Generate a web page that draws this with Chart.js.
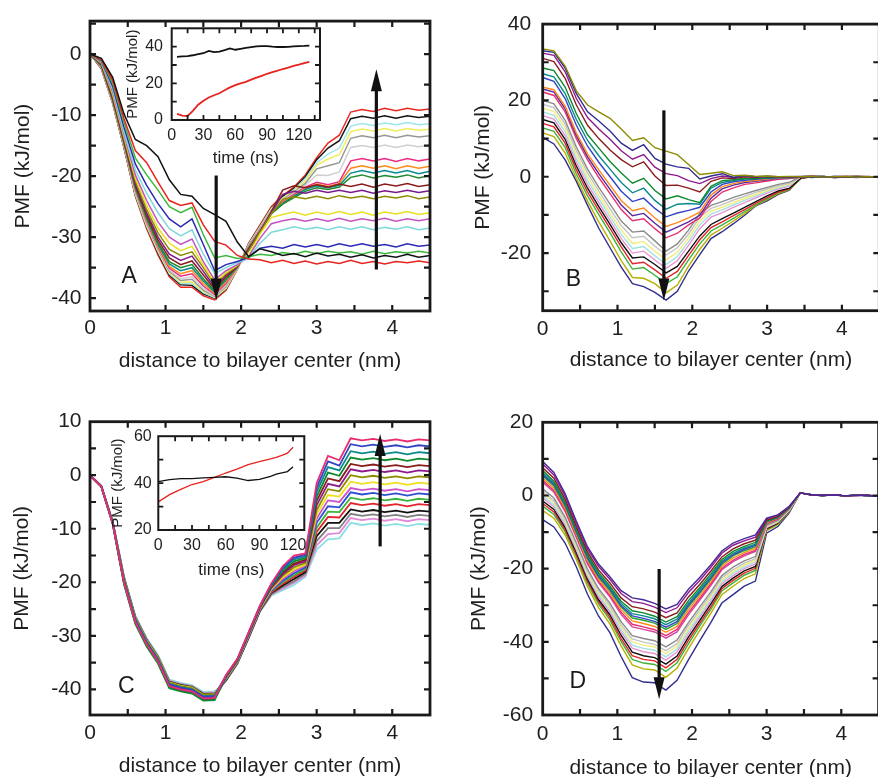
<!DOCTYPE html>
<html>
<head>
<meta charset="utf-8">
<title>PMF profiles</title>
<script src="https://cdn.jsdelivr.net/npm/chart.js@4.4.1/dist/chart.umd.min.js"></script>
<style>
  html, body { margin: 0; padding: 0; background: #fff; }
  body { position: relative; width: 878px; height: 777px; overflow: hidden; }
  canvas { position: absolute; }
</style>
</head>
<body>
<canvas id="panelA" width="440" height="385" style="left:0;top:0"></canvas>
<canvas id="panelB" width="445" height="385" style="left:440px;top:0"></canvas>
<canvas id="panelC" width="440" height="390" style="left:0;top:400px"></canvas>
<canvas id="panelD" width="445" height="390" style="left:440px;top:400px"></canvas>
<canvas id="insetA" width="220" height="165" style="left:110px;top:10px"></canvas>
<canvas id="insetC" width="215" height="165" style="left:100px;top:420px"></canvas>
<script>
Chart.defaults.font.family = '"Liberation Sans", Arial, Helvetica, sans-serif';
Chart.defaults.color = '#1f1f1f';

// distance to bilayer center (nm), same grid for every panel
var distance = [0, 0.15, 0.3, 0.45, 0.6, 0.75, 0.9, 1.05, 1.2, 1.35, 1.5, 1.65, 1.8, 1.95, 2.1, 2.25,
    2.4, 2.55, 2.7, 2.85, 3.0, 3.15, 3.3, 3.45, 3.6, 3.75, 3.9, 4.05, 4.2, 4.35, 4.5];
var distTicks = [0, 0.5, 1, 1.5, 2, 2.5, 3, 3.5, 4, 4.5];
var distLabels = [0, 1, 2, 3, 4];

// panel A profiles, earliest first
var pmfA = [
    [0,-0.7,-3.8,-9.8,-14,-15,-16.8,-20.6,-23,-23.3,-25.3,-26.3,-27.4,-30.8,-33.2,-31.9,-32.4,-33,-32.7,-33.2,-32.6,-33.1,-32.8,-33.3,-32.9,-33.4,-33,-33.3,-32.8,-33.3,-33],
    [0,-0.9,-4.3,-10.6,-15.8,-17.8,-21,-24,-24.8,-24.4,-28,-30.7,-31.3,-33,-33.6,-33.7,-34.2,-33.8,-34.3,-33.9,-34.4,-34,-34.3,-33.8,-34.3,-34,-34.4,-34,-34.2,-33.9,-34.2],
    [0,-1,-4.8,-11.2,-17,-19.8,-22.3,-25,-26,-25.1,-29.6,-33.4,-33,-33.5,-33.2,-32.8,-33,-32.5,-32.8,-32.3,-32.7,-32.3,-32.6,-32.4,-32.8,-32.3,-32.7,-32.4,-32.6,-32.3,-32.6],
    [0,-1.1,-5.3,-12,-18,-21.5,-24.5,-27,-28.3,-27,-31.2,-35.5,-34.5,-34,-33.3,-31.8,-31.5,-31.8,-31.2,-31.6,-31.2,-31.6,-31.1,-31.5,-31.1,-31.5,-31.2,-31.6,-31.1,-31.5,-31.3],
    [0,-1.2,-5.8,-12.8,-19,-22.8,-26,-28.6,-29.8,-28.8,-32.8,-36,-35,-34.2,-33.5,-31,-29.2,-28.8,-28.3,-28.7,-28.4,-28.8,-28.3,-28.7,-28.3,-28.8,-28.4,-28.7,-28.3,-28.8,-28.5],
    [0,-1.3,-6.2,-13.2,-19.8,-24,-27.5,-30,-31.2,-30.3,-34,-37,-35.5,-34.5,-33.2,-30.2,-27.8,-27.3,-27,-27.4,-27,-27.4,-26.9,-27.4,-27,-27.3,-26.9,-27.4,-27,-27.3,-27],
    [0,-1.4,-6.5,-13.5,-20.3,-24.8,-28.5,-31,-32.2,-31.5,-34.6,-37.5,-35.8,-34.6,-33,-29.5,-26.8,-26.3,-25.9,-26.4,-25.9,-26.3,-25.8,-26.3,-25.9,-26.4,-25.9,-26.2,-25.8,-26.3,-26],
    [0,-1.5,-6.8,-13.8,-20.8,-25.5,-29.3,-32,-33,-32.4,-35,-37.8,-36,-34.7,-32.3,-29.2,-26.2,-23.8,-23.4,-23.7,-23.3,-23.7,-23.2,-23.6,-23.3,-23.7,-23.3,-23.6,-23.2,-23.7,-23.4],
    [0,-1.6,-7,-14,-21.2,-26,-30,-32.8,-33.8,-33.1,-35.6,-38.2,-36.2,-34.8,-32.1,-29.1,-26,-23,-22.5,-22.8,-22.3,-22.7,-22.3,-22.7,-22.3,-22.8,-22.4,-22.7,-22.3,-22.7,-22.4],
    [0,-1.7,-7.2,-14.2,-21.5,-26.4,-30.5,-33.4,-34.5,-33.9,-36.2,-38.5,-36.5,-34.8,-32,-29.2,-25.8,-22.3,-21.6,-21.9,-21.4,-21.8,-21.3,-21.7,-21.3,-21.8,-21.3,-21.6,-21.2,-21.7,-21.4],
    [0,-1.8,-7.4,-14.4,-21.7,-26.8,-30.9,-34,-35,-34.5,-36.8,-38.8,-36.8,-34.9,-31.9,-29.1,-26.2,-24.6,-23.5,-22.5,-21.9,-22.2,-21.8,-20.2,-19.8,-20.3,-19.9,-20.2,-19.8,-20.3,-19.9],
    [0,-1.9,-7.5,-14.5,-21.9,-27,-31.2,-34.4,-35.5,-35,-37.2,-39,-37,-34.9,-31.8,-29,-26.1,-24.5,-23.3,-22.2,-21.6,-21.9,-21.5,-19.5,-19.1,-19.5,-19.1,-19.5,-19.1,-19.6,-19.2],
    [0,-1.9,-7.6,-14.6,-22,-27.2,-31.4,-34.8,-36,-35.5,-37.6,-39.2,-37.3,-35,-31.7,-28.9,-26,-24.4,-23.2,-22,-21.3,-21.7,-21.2,-18.7,-18.3,-18.7,-18.3,-18.8,-18.3,-18.7,-18.4],
    [0,-2,-7.7,-14.7,-22.2,-27.4,-31.6,-35.1,-36.4,-36,-38,-39.4,-37.6,-35,-31.6,-28.8,-25.9,-24.2,-23,-21.8,-21,-21.4,-20.9,-17.5,-17.1,-17.5,-17.1,-17.6,-17.1,-17.5,-17.2],
    [0,-2,-7.8,-14.8,-22.4,-27.6,-31.8,-35.4,-36.8,-36.5,-38.4,-39.6,-37.9,-35.1,-31.5,-28.6,-25.7,-24,-22.8,-21.5,-19.8,-19.9,-19.3,-15.3,-15,-15.3,-14.9,-15.3,-14.9,-15.2,-14.9],
    [0,-2.1,-7.9,-14.9,-22.6,-27.8,-32,-35.6,-37.1,-36.9,-38.7,-39.7,-38.1,-35.1,-31.4,-28.5,-25.6,-23.9,-22.6,-21.2,-18.8,-18.3,-17.8,-13.8,-13.4,-13.7,-13.3,-13.7,-13.3,-13.6,-13.4],
    [0,-2.2,-7.9,-15,-22.8,-28,-32.2,-35.8,-37.4,-37.3,-38.9,-39.8,-38.3,-35.2,-31.3,-28.4,-25.4,-23.7,-22.4,-20.8,-18.2,-17.2,-16.5,-12.7,-12.3,-12.6,-12.2,-12.6,-12.2,-12.5,-12.3],
    [0,-2.2,-8,-15.1,-23,-28.2,-32.4,-36,-37.6,-37.6,-39.1,-39.9,-38.4,-35.2,-31.2,-28.3,-25.3,-23.6,-22.2,-20.4,-17.8,-16.4,-15.4,-11.8,-11.4,-11.7,-11.3,-11.6,-11.2,-11.6,-11.4],
    [0,-2.3,-8,-15.2,-23.1,-28.3,-32.6,-36.2,-37.8,-37.9,-39.3,-40,-38.5,-35.2,-31.1,-28.2,-25.2,-23.4,-22,-20.1,-17.3,-15.4,-14.2,-10.6,-10.2,-10.5,-10.1,-10.5,-10.1,-10.4,-10.2],
    [0,-2.4,-8.1,-15.4,-23.3,-28.6,-32.9,-36.5,-38.2,-38.2,-39.6,-40.3,-38.7,-35.3,-31,-28,-25,-23.2,-21.8,-19.8,-17,-14.6,-13.3,-9.5,-9.1,-9.4,-8.9,-9.3,-8.9,-9.2,-9]
];
var colorsA = ['#111111', '#e8231f', '#3cb83c', '#2a2ab4', '#7fd8dc', '#c154c1', '#e8e020', '#8c8c00', '#7a1a8a', '#8b1c1c',
    '#1e8a2e', '#0a8c8c', '#ff8a1c', '#ec2c84', '#cfcfcf', '#969696', '#f2ec60', '#9ee6ea', '#151515', '#ea2a22'];

// panel B profiles
var pmfB = [
    [33.5,33,29,22.5,18.8,17,15.3,12.5,9.5,10.2,7.6,6.7,5.8,3.2,0.6,0.9,1.3,0.3,0.4,0.1,0.2,0,0.1,0,0.1,-0.1,0,0.1,-0.1,0,0],
    [33,32.6,28.5,21.8,17,14.6,12,8.8,6.9,8.4,4.8,3.3,2.6,2.2,-0.6,0.2,0.8,-0.2,0.3,0,0.1,-0.1,0,0.1,0,0,-0.1,0.1,0,-0.1,0],
    [32.4,31.8,27.5,20.5,15.5,12.5,9.8,6.8,4.6,5.8,2.5,0.8,0.3,-1,-1.8,-0.5,0.2,-0.2,0.2,0,0.1,0,-0.1,0,0.1,0,-0.1,0,0.1,0,0],
    [31,30.2,25.8,18.8,13.5,10,7,4.5,2.6,3.9,0.2,-2.3,-2.2,-3,-4,-1.2,-0.3,-0.5,0,-0.2,0.1,0,-0.1,0,0.1,0,-0.1,0,0,-0.1,0],
    [28.5,27.8,23.5,16.5,11,7.5,4,1,-1.7,-0.4,-3.6,-5.8,-5,-6,-6.8,-2.5,-1,-0.8,-0.4,-0.5,-0.2,-0.1,-0.2,0,0.1,0,-0.1,0,0.1,0,-0.1],
    [27,26.2,21.8,15,9.5,5.5,2,-1.5,-4.2,-3,-6.2,-8.5,-7.2,-7,-7.2,-3,-1.5,-1,-0.6,-0.5,-0.3,-0.2,-0.2,0,0,0.1,-0.1,0,0,-0.1,0],
    [26,25,20.5,13.5,8,3.8,0,-3.8,-6.5,-5.6,-8.3,-10.5,-9.5,-8.8,-8,-4,-2,-1.3,-0.9,-0.7,-0.4,-0.3,-0.2,0,0,-0.1,0.1,0,-0.1,0,0],
    [23.5,22.8,18.5,11.5,6,1.8,-2.2,-6.2,-8.9,-8.2,-10.8,-13,-12,-10.8,-9.3,-4.8,-2.6,-1.8,-1.2,-1,-0.6,-0.4,-0.3,0,0.1,0,-0.1,0,0.1,0,-0.1],
    [23,22.2,17.8,10.8,5.2,0.8,-3.3,-7.4,-10.2,-9.6,-12.2,-14.5,-13.2,-11.8,-10.1,-5.6,-3.2,-2.2,-1.5,-1.2,-0.8,-0.5,-0.4,0,0,0.1,-0.1,0,0,-0.1,0],
    [22.2,21.3,17,10,4.4,-0.2,-4.4,-8.6,-11.5,-11,-13.6,-16,-14.8,-12.6,-10.8,-6.5,-4,-2.9,-2,-1.6,-1.1,-0.7,-0.5,0,0.1,-0.1,0,0.1,-0.1,0,0],
    [20,19.1,14.8,7.8,2,-2.8,-7.2,-11.6,-14.5,-14.2,-16.8,-19.5,-17.6,-14,-9.6,-7.5,-6.5,-5.4,-4.5,-3.6,-2.8,-2,-1.4,0,0.1,0,-0.1,0,0.1,0,-0.1],
    [19,18.1,13.8,6.8,1,-3.8,-8.4,-12.8,-16,-15.6,-18.2,-20.5,-18.6,-15,-10.6,-8.3,-7.3,-6.1,-5.1,-4.1,-3.2,-2.3,-1.7,0,0,0.1,-0.1,0,0,-0.1,0],
    [18,17.1,12.8,5.8,0,-4.8,-9.5,-14,-17.5,-17,-19.5,-21.8,-19.8,-16,-11.6,-9,-8,-6.8,-5.7,-4.6,-3.6,-2.6,-1.9,0,0.1,0,-0.1,0.1,0,-0.1,0],
    [17,16.1,11.8,4.8,-1,-5.8,-10.5,-15.1,-18.8,-18.3,-20.7,-23,-20.9,-17,-12.6,-9.8,-8.7,-7.4,-6.2,-5,-3.9,-2.9,-2.2,0,0,-0.1,0,0.1,-0.1,0,0],
    [16,15.1,10.8,3.8,-2,-6.8,-11.5,-16.2,-20,-19.5,-21.8,-24,-22,-18,-13.6,-10.6,-9.4,-8,-6.8,-5.5,-4.3,-3.2,-2.4,0,0.1,0,-0.1,0,0,0.1,-0.1],
    [15,14.1,9.8,2.8,-3,-7.8,-12.5,-17.3,-21.3,-21,-23,-25.2,-23.5,-19.5,-15.5,-12.5,-11,-9.5,-8,-6.5,-5,-3.7,-3,-0.3,0,-0.1,0.1,0,-0.1,0,0],
    [14,13.1,8.8,1.8,-4,-8.8,-13.5,-18.4,-22.8,-22.4,-24.4,-26.6,-24.8,-20.6,-16.5,-13.3,-11.8,-10.2,-8.6,-7,-5.5,-4,-3.2,-0.4,0,0.1,-0.1,0,0.1,0,-0.1],
    [12.8,11.9,7.7,0.7,-5,-9.9,-14.7,-19.7,-24.2,-23.8,-25.8,-28,-26.2,-21.8,-17.6,-14.2,-12.6,-10.9,-9.1,-7.4,-5.8,-4.2,-3.3,-0.5,0.1,0,-0.1,0,0,-0.1,0],
    [11.5,10.5,6.2,-0.4,-6.4,-11.8,-16.8,-22,-26.4,-26.6,-28,-30.4,-28.4,-23.4,-19,-15.3,-13.5,-11.6,-9.6,-7.5,-6,-4.4,-3.4,-0.4,0,-0.1,0,0.1,-0.1,0,0],
    [10.3,8.6,4.4,-1.2,-7.5,-13.5,-18.6,-23.7,-28,-28.8,-30.3,-32.3,-30,-24.7,-20.4,-16.2,-14.4,-12.3,-10.1,-7.6,-6.3,-4.6,-3.5,0,-0.2,0.1,-0.3,0,-0.2,0.1,-0.1]
];
var colorsB = ['#8c8c00', '#302e8e', '#8e1a8e', '#8b1c1c', '#0e8a2e', '#0a8a8a', '#3444c4', '#ff8a1c', '#5a2aa0', '#e8306e',
    '#8c8c8c', '#c4c4c4', '#f0ee78', '#a4e0e4', '#e894d4', '#111111', '#e4242c', '#3cb43c', '#b8b000', '#302e8e'];

// panel C profiles
var pmfC = [
    [0,-2.1,-9,-20,-27.4,-31.6,-34.8,-39.4,-40,-40.4,-41.7,-41.6,-37.3,-34.3,-29.3,-24.3,-20.2,-17,-15,-14.6,-1.5,3.6,2.8,6.9,6.5,6.8,6.4,6.7,6.3,6.7,6.5],
    [0,-2.1,-8.9,-19.7,-27.1,-31.3,-34.5,-39.1,-39.7,-40.1,-41.4,-41.3,-37.4,-34.4,-29.4,-24.4,-20.4,-17.3,-15.4,-14.9,-2.3,2.6,1.8,5.8,5.4,5.7,5.3,5.6,5.2,5.6,5.4],
    [0,-2.1,-8.8,-19.6,-27,-31.2,-34.4,-39,-39.6,-40,-41.3,-41.2,-37.5,-34.4,-29.5,-24.5,-20.5,-17.6,-15.7,-15.2,-3.1,1.5,0.9,4.5,4.1,4.4,4,4.3,3.9,4.3,4.1],
    [0,-2.2,-9.1,-20.4,-27.8,-32,-35.2,-39.8,-40.4,-40.8,-42.1,-42,-37.5,-34.5,-29.5,-24.5,-20.7,-17.9,-16.1,-15.5,-4,0.5,-0.1,3.3,2.9,3.2,2.8,3.1,2.7,3.1,2.9],
    [0,-2.1,-8.9,-19.8,-27.2,-31.4,-34.6,-39.2,-39.8,-40.2,-41.5,-41.4,-37.6,-34.6,-29.6,-24.6,-20.8,-18.2,-16.5,-15.8,-4.8,-0.6,-1.1,2.1,1.7,2,1.6,1.9,1.5,1.9,1.7],
    [0,-2.1,-9,-20.2,-27.6,-31.8,-35,-39.6,-40.2,-40.6,-41.9,-41.8,-37.7,-34.6,-29.7,-24.7,-21,-18.5,-16.8,-16.1,-5.6,-1.6,-2.1,1.1,0.7,1,0.6,0.9,0.5,0.9,0.7],
    [0,-2.1,-8.8,-19.4,-26.8,-31,-34.2,-38.8,-39.4,-39.8,-41.1,-41,-37.8,-34.7,-29.8,-24.8,-21.1,-18.8,-17.2,-16.4,-6.5,-2.6,-3,0,-0.4,-0.1,-0.5,-0.2,-0.6,-0.2,-0.4],
    [0,-2,-8.7,-19.3,-26.7,-30.9,-34.1,-38.7,-39.3,-39.7,-41,-40.9,-37.9,-34.8,-29.9,-24.9,-21.3,-19.1,-17.6,-16.7,-7.3,-3.7,-4,-1.2,-1.6,-1.3,-1.7,-1.4,-1.8,-1.4,-1.6],
    [0,-2.1,-8.9,-19.7,-27.1,-31.3,-34.5,-39.1,-39.7,-40.1,-41.4,-41.3,-37.9,-34.8,-29.9,-24.9,-21.4,-19.4,-17.9,-16.9,-8.1,-4.7,-5,-2.4,-2.8,-2.5,-2.9,-2.6,-3,-2.6,-2.8],
    [0,-2.1,-8.9,-19.9,-27.3,-31.5,-34.7,-39.3,-39.9,-40.3,-41.6,-41.5,-38,-34.9,-30,-25,-21.6,-19.7,-18.3,-17.2,-8.9,-5.8,-6,-3.2,-3.6,-3.3,-3.7,-3.4,-3.8,-3.4,-3.6],
    [0,-2.1,-9,-20.1,-27.5,-31.7,-34.9,-39.5,-40.1,-40.5,-41.8,-41.7,-38.1,-35,-30.1,-25.1,-21.7,-20,-18.7,-17.5,-9.8,-6.8,-6.9,-4.2,-4.6,-4.3,-4.7,-4.4,-4.8,-4.4,-4.6],
    [0,-2.1,-8.8,-19.6,-27,-31.2,-34.4,-39,-39.6,-40,-41.3,-41.2,-38.2,-35,-30.2,-25.2,-21.9,-20.3,-19,-17.8,-10.6,-7.8,-7.9,-5.2,-5.6,-5.3,-5.7,-5.4,-5.8,-5.4,-5.6],
    [0,-2,-8.7,-19.2,-26.6,-30.8,-34,-38.6,-39.2,-39.6,-40.9,-40.8,-38.3,-35.1,-30.3,-25.3,-22,-20.6,-19.4,-18.1,-11.4,-8.9,-8.9,-6.4,-6.8,-6.5,-6.9,-6.6,-7,-6.6,-6.8],
    [0,-2,-8.7,-19.1,-26.5,-30.7,-33.9,-38.5,-39.1,-39.5,-40.8,-40.7,-38.3,-35.2,-30.3,-25.3,-22.2,-20.9,-19.8,-18.4,-12.3,-9.9,-9.9,-7.2,-7.6,-7.3,-7.7,-7.4,-7.8,-7.4,-7.6],
    [0,-2,-8.7,-19,-26.4,-30.6,-33.8,-38.4,-39,-39.4,-40.7,-40.6,-38.4,-35.2,-30.4,-25.4,-22.3,-21.2,-20.1,-18.7,-13.1,-11,-10.8,-8,-8.4,-8.1,-8.5,-8.2,-8.6,-8.2,-8.4],
    [0,-2,-8.6,-18.8,-26.2,-30.4,-33.6,-38.2,-38.8,-39.2,-40.5,-40.4,-38.5,-35.3,-30.5,-25.5,-22.5,-21.5,-20.5,-19,-13.9,-12,-11.8,-8.9,-9.3,-9,-9.4,-9.1,-9.5,-9.1,-9.3]
];
var colorsC = ['#ec2c72', '#3444c4', '#0a8a8a', '#0e8a2e', '#8b1c1c', '#8e1a8e', '#8c8c00', '#f0e020', '#d050c8', '#3050d0',
    '#3cb43c', '#e4242c', '#111111', '#808080', '#e08ad8', '#8ae0e4'];

// panel D profiles
var pmfD = [
    [9.3,6.3,0.5,-7,-14,-18.8,-22.2,-26,-28,-28.5,-29.5,-31,-29.8,-25.7,-22.5,-19,-15.2,-13,-11.8,-10.8,-6.2,-5.3,-3,0.7,0.2,0,0.2,-0.1,0.1,0,-0.2],
    [8.6,5.6,-0.1,-7.6,-14.6,-19.4,-22.9,-26.8,-29,-29.5,-30.5,-32,-30.7,-26.6,-23.3,-19.7,-15.8,-13.6,-12.4,-11.4,-6.4,-5.4,-3.1,0.7,0.2,0.1,0.2,-0.1,0.1,0,-0.2],
    [7.6,4.7,-1,-8.4,-15.4,-20.4,-23.9,-28,-30.4,-31,-31.9,-33.4,-32.1,-27.8,-24.4,-20.7,-16.8,-14.6,-13.2,-12.2,-6.7,-5.7,-3.2,0.7,0.1,0,0.2,-0.1,0,0.1,-0.2],
    [6.8,3.9,-1.7,-9,-16.1,-21.1,-24.7,-28.9,-31.5,-32.1,-33,-34.6,-33.1,-28.8,-25.3,-21.5,-17.5,-15.3,-13.9,-12.8,-6.9,-5.8,-3.3,0.7,0.2,0,0.1,-0.1,0.1,0,-0.2],
    [6.2,3.4,-2.1,-9.4,-16.5,-21.6,-25.2,-29.5,-32.3,-32.9,-33.7,-35.3,-33.8,-29.5,-25.9,-22.1,-18,-15.8,-14.3,-13.3,-7,-5.9,-3.4,0.7,0.2,0.1,0.2,-0.1,0.1,0,-0.2],
    [5.7,3,-2.5,-9.8,-16.9,-22,-25.6,-30.1,-32.9,-33.6,-34.4,-36,-34.5,-30,-26.4,-22.6,-18.4,-16.2,-14.7,-13.6,-7.1,-6,-3.4,0.7,0.1,0,0.2,-0.1,0,0,-0.2],
    [5.3,2.6,-2.9,-10.1,-17.3,-22.4,-26,-30.5,-33.5,-34.1,-34.9,-36.6,-35,-30.5,-26.8,-23,-18.8,-16.5,-15.1,-14,-7.2,-6.1,-3.5,0.7,0.2,0,0.2,-0.1,0.1,0,-0.2],
    [4.7,2,-3.4,-10.6,-17.8,-22.9,-26.6,-31.2,-34.3,-35,-35.8,-37.4,-35.8,-31.3,-27.5,-23.6,-19.3,-17.1,-15.6,-14.5,-7.4,-6.2,-3.5,0.7,0.2,0,0.1,-0.1,0.1,0,-0.2],
    [4.1,1.4,-4,-11.1,-18.3,-23.5,-27.3,-31.9,-35.2,-35.9,-36.7,-38.3,-36.6,-32.1,-28.2,-24.2,-19.9,-17.7,-16.1,-15,-7.6,-6.4,-3.6,0.7,0.2,0.1,0.2,-0.1,0.1,0,-0.2],
    [3.6,0.9,-4.4,-11.5,-18.7,-23.9,-27.7,-32.5,-35.9,-36.6,-37.3,-39,-37.3,-32.7,-28.7,-24.7,-20.3,-18.1,-16.5,-15.3,-7.7,-6.5,-3.6,0.7,0.1,0,0.2,-0.1,0,0.1,-0.2],
    [1.8,-0.7,-5.9,-12.9,-20.1,-25.5,-29.4,-34.5,-38.3,-39.1,-39.7,-41.4,-39.5,-34.8,-30.6,-26.4,-21.9,-19.6,-17.9,-16.7,-8.1,-6.8,-3.8,0.7,0.2,0,0.2,-0.1,0.1,0,-0.2],
    [1.1,-1.4,-6.5,-13.4,-20.7,-26.1,-30.1,-35.3,-39.2,-40.1,-40.7,-42.4,-40.5,-35.6,-31.4,-27.1,-22.5,-20.3,-18.5,-17.3,-8.3,-6.9,-3.9,0.7,0.2,0.1,0.2,-0.1,0.1,0,-0.2],
    [0.6,-1.9,-6.9,-13.9,-21.2,-26.6,-30.6,-35.9,-40,-40.9,-41.4,-43.2,-41.2,-36.3,-32,-27.7,-23,-20.8,-19,-17.7,-8.5,-7.1,-4,0.7,0.2,0,0.1,-0.1,0.1,0,-0.2],
    [-0.1,-2.5,-7.5,-14.4,-21.7,-27.2,-31.2,-36.6,-40.9,-41.8,-42.3,-44.1,-42,-37.1,-32.7,-28.3,-23.6,-21.3,-19.5,-18.2,-8.6,-7.2,-4.1,0.7,0.2,0,0.2,-0.1,0.1,0,-0.2],
    [-0.7,-3.1,-8,-14.9,-22.2,-27.8,-31.8,-37.3,-41.7,-42.7,-43.2,-45,-42.8,-37.9,-33.4,-29,-24.2,-21.9,-20,-18.7,-8.8,-7.3,-4.1,0.7,0.1,0,0.2,-0.1,0,0.1,-0.2],
    [-1.5,-3.8,-8.7,-15.5,-22.8,-28.5,-32.6,-38.2,-42.8,-43.8,-44.3,-46.1,-43.9,-38.8,-34.3,-29.7,-24.9,-22.6,-20.6,-19.4,-9,-7.5,-4.2,0.7,0.2,0,0.2,-0.1,0.1,0,-0.2],
    [-2.2,-4.5,-9.3,-16.1,-23.4,-29.1,-33.3,-39.1,-43.8,-44.8,-45.2,-47.1,-44.8,-39.7,-35,-30.5,-25.5,-23.2,-21.2,-19.9,-9.2,-7.6,-4.3,0.7,0.2,0.1,0.2,-0.1,0.1,0,-0.2],
    [-2.9,-5.2,-9.9,-16.6,-24,-29.7,-34,-39.9,-44.8,-45.8,-46.2,-48.1,-45.7,-40.6,-35.8,-31.2,-26.1,-23.9,-21.8,-20.5,-9.4,-7.8,-4.4,0.7,0.2,0,0.1,-0.1,0.1,0,-0.2],
    [-4.1,-6.2,-10.8,-17.5,-24.9,-30.7,-35.1,-41.1,-46.3,-47.4,-47.7,-49.7,-47.2,-41.9,-37,-32.3,-27.1,-24.8,-22.7,-21.4,-9.6,-8,-4.5,0.7,0.2,0.1,0.2,-0.1,0.1,0,-0.2],
    [-6.6,-8.6,-13,-19.5,-27,-33,-37.5,-44,-49.8,-51,-51.2,-53.2,-50.5,-45,-39.8,-34.8,-29.4,-27.1,-24.8,-23.4,-10.3,-8.5,-4.8,0.7,0.2,0,0.1,-0.1,0.2,0,-0.1]
];
var colorsD = ['#4a2a98', '#8e1a8e', '#8b1c1c', '#0e8a2e', '#0a8a8a', '#3444c4', '#2aa02a', '#ff8a1c', '#ec2c72', '#d04aa0',
    '#8c8c8c', '#c4c4c4', '#f0ee78', '#a4e0e4', '#e894d4', '#111111', '#e4242c', '#3cb43c', '#b8b000', '#302e8e'];

// inset series (time in ns, PMF in kJ/mol)
var timeA = [5, 10, 15, 20, 25, 30, 35, 40, 45, 50, 55, 60, 65, 70, 75, 80, 85, 90, 95, 100, 105, 110, 115, 120, 125, 130];
var blackA = [34.4, 34.7, 34.8, 35.3, 35.9, 36.4, 37.7, 37.0, 37.3, 38.1, 39.0, 38.3, 38.8, 39.3, 39.7, 40.1, 40.3, 40.3, 40.0, 39.8, 39.8, 39.9, 40.1, 40.3, 40.4, 40.6];
var redA = [3.3, 2.4, 2.2, 5.0, 8.3, 10.5, 12.3, 13.5, 14.6, 16.2, 17.8, 19.0, 20.0, 20.8, 22.0, 23.1, 24.1, 25.2, 26.1, 26.9, 27.8, 28.6, 29.5, 30.2, 31.0, 31.7];
var timeC = [0, 10, 20, 30, 40, 50, 60, 70, 80, 90, 100, 105, 110, 115, 120];
var blackC = [40.6, 41.5, 41.9, 41.9, 42.2, 42.4, 42.7, 42.1, 41.1, 41.6, 42.9, 43.8, 44.4, 44.9, 47.0];
var redC = [32.0, 35.1, 37.3, 39.4, 40.6, 42.4, 44.3, 46.0, 47.9, 49.2, 50.3, 51.0, 51.8, 52.8, 55.3];

// frame, inward ticks, arrows and the panel letter
function decor(o) {
    return {
        id: 'decor',
        beforeDraw: function(chart) {
            if (!o.fill) return;
            var a = chart.chartArea, ctx = chart.ctx;
            ctx.save();
            ctx.fillStyle = '#ffffff';
            ctx.fillRect(a.left, a.top, a.right - a.left, a.bottom - a.top);
            ctx.restore();
        },
        afterDatasetsDraw: function(chart) {
            var ctx = chart.ctx, a = chart.chartArea, x = chart.scales.x, y = chart.scales.y;
            ctx.save();
            ctx.strokeStyle = '#1a1a1a';
            ctx.lineWidth = o.tickWidth;
            ctx.beginPath();
            x.ticks.forEach(function(t) {
                var px = x.getPixelForValue(t.value);
                if (px < a.left + 1 || px > a.right - 1) return;
                ctx.moveTo(px, a.bottom); ctx.lineTo(px, a.bottom - o.tickLen);
                ctx.moveTo(px, a.top); ctx.lineTo(px, a.top + o.tickLen);
            });
            y.ticks.forEach(function(t) {
                var py = y.getPixelForValue(t.value);
                if (py < a.top + 1 || py > a.bottom - 1) return;
                ctx.moveTo(a.left, py); ctx.lineTo(a.left + o.tickLen, py);
                ctx.moveTo(a.right, py); ctx.lineTo(a.right - o.tickLen, py);
            });
            ctx.stroke();
            ctx.lineWidth = o.frameWidth;
            ctx.strokeRect(a.left, a.top, a.right - a.left, a.bottom - a.top);

            (o.arrows || []).forEach(function(ar) {
                var px = x.getPixelForValue(ar.x);
                var y0 = y.getPixelForValue(ar.from), y1 = y.getPixelForValue(ar.to);
                var dir = y1 > y0 ? 1 : -1;
                ctx.strokeStyle = '#111';
                ctx.fillStyle = '#111';
                ctx.lineWidth = 3.2;
                ctx.beginPath();
                ctx.moveTo(px, y0);
                ctx.lineTo(px, y1 - dir * 16);
                ctx.stroke();
                ctx.beginPath();
                ctx.moveTo(px, y1);
                ctx.lineTo(px - 5.5, y1 - dir * 22);
                ctx.lineTo(px + 5.5, y1 - dir * 22);
                ctx.closePath();
                ctx.fill();
            });

            if (o.letter) {
                ctx.fillStyle = '#1a1a1a';
                ctx.font = '23px "Liberation Sans", Arial, sans-serif';
                ctx.textAlign = 'center';
                ctx.textBaseline = 'alphabetic';
                ctx.fillText(o.letter.text, x.getPixelForValue(o.letter.x), y.getPixelForValue(o.letter.y) + 8.2);
            }
            ctx.restore();
        }
    };
}

function axis(o) {
    return {
        type: 'linear',
        min: o.min,
        max: o.max,
        afterBuildTicks: function(s) { s.ticks = o.ticks.map(function(v) { return {value: v}; }); },
        afterFit: function(s) {
            if (o.width) s.width = o.width;
            if (o.height) s.height = o.height;
        },
        grid: {display: false, drawTicks: false},
        border: {display: false},
        ticks: {
            autoSkip: false, maxRotation: 0, padding: o.pad, color: '#1f1f1f',
            font: {size: o.fontSize},
            callback: function(v) { return o.labels.indexOf(v) >= 0 ? String(v) : ''; }
        },
        title: {display: true, text: o.title, color: '#1f1f1f', font: {size: o.titleSize}, padding: o.titlePad}
    };
}

function drawChart(id, o) {
    var sets = o.series.map(function(s) {
        return {
            data: s.ys.map(function(v, i) { return {x: s.xs[i], y: v}; }),
            borderColor: s.color, borderWidth: o.lineWidth,
            pointRadius: 0, tension: 0, fill: false
        };
    });
    return new Chart(document.getElementById(id), {
        type: 'line',
        data: {datasets: sets},
        options: {
            responsive: false,
            animation: false,
            events: [],
            layout: {padding: o.padding},
            plugins: {legend: {display: false}, tooltip: {enabled: false}},
            scales: {x: axis(o.x), y: axis(o.y)}
        },
        plugins: [decor(o.decor)]
    });
}

function profiles(curves, colors) {
    return curves.map(function(ys, k) { return {xs: distance, ys: ys, color: colors[k]}; });
}

var xTitle = 'distance to bilayer center (nm)', yTitle = 'PMF (kJ/mol)';
var mainDecor = {tickLen: 6, tickWidth: 2.2, frameWidth: 2.8};

drawChart('panelA', {
    series: profiles(pmfA, colorsA), lineWidth: 1.5,
    padding: {top: 16, right: 10, left: 0, bottom: 0},
    x: {min: 0, max: 4.5, ticks: distTicks, labels: distLabels, height: 74, pad: 4.4, fontSize: 21,
        title: xTitle, titleSize: 21, titlePad: {top: 0, bottom: 10.7}},
    y: {min: -42.1, max: 5.4, ticks: [-40, -35, -30, -25, -20, -15, -10, -5, 0, 5], labels: [-40, -30, -20, -10, 0],
        width: 90, pad: 8.5, fontSize: 21, title: yTitle, titleSize: 21, titlePad: {top: 10.4, bottom: 0}},
    decor: Object.assign({}, mainDecor, {
        arrows: [{x: 1.67, from: -19.9, to: -40.4}, {x: 3.79, from: -35.3, to: -2.5}],
        letter: {text: 'A', x: 0.52, y: -36.1}
    })
});

drawChart('panelB', {
    series: profiles(pmfB, colorsB), lineWidth: 1.4,
    padding: {top: 16, right: 3.5, left: 0, bottom: 0},
    x: {min: 0, max: 4.5, ticks: distTicks, labels: distLabels, height: 74.3, pad: 5.7, fontSize: 21,
        title: xTitle, titleSize: 21, titlePad: {top: 0, bottom: 12.4}},
    y: {min: -35.1, max: 40, ticks: [-30, -20, -10, 0, 10, 20, 30, 40], labels: [-20, 0, 20, 40],
        width: 102.7, pad: 11.5, fontSize: 21, title: yTitle, titleSize: 21, titlePad: {top: 30.7, bottom: 0}},
    decor: Object.assign({}, mainDecor, {
        arrows: [{x: 1.62, from: 17.4, to: -32.4}],
        letter: {text: 'B', x: 0.41, y: -26.4}
    })
});

drawChart('panelC', {
    series: profiles(pmfC, colorsC), lineWidth: 1.8,
    padding: {top: 21.7, right: 10, left: 0, bottom: 0},
    x: {min: 0, max: 4.5, ticks: distTicks, labels: distLabels, height: 75, pad: 5.7, fontSize: 21,
        title: xTitle, titleSize: 21, titlePad: {top: 0, bottom: 11.4}},
    y: {min: -44.8, max: 10, ticks: [-40, -35, -30, -25, -20, -15, -10, -5, 0, 5, 10], labels: [-40, -30, -20, -10, 0, 10],
        width: 90, pad: 8.5, fontSize: 21, title: yTitle, titleSize: 21, titlePad: {top: 9.9, bottom: 0}},
    decor: Object.assign({}, mainDecor, {
        arrows: [{x: 3.84, from: -13.3, to: 7.7}],
        letter: {text: 'C', x: 0.48, y: -39.2}
    })
});

drawChart('panelD', {
    series: profiles(pmfD, colorsD), lineWidth: 1.4,
    padding: {top: 22.3, right: 3.5, left: 0, bottom: 0},
    x: {min: 0, max: 4.5, ticks: distTicks, labels: distLabels, height: 75, pad: 6.4, fontSize: 21,
        title: xTitle, titleSize: 21, titlePad: {top: 0, bottom: 9.4}},
    y: {min: -60, max: 20, ticks: [-60, -50, -40, -30, -20, -10, 0, 10, 20], labels: [-60, -40, -20, 0, 20],
        width: 102.7, pad: 9.5, fontSize: 21, title: yTitle, titleSize: 21, titlePad: {top: 26.4, bottom: 0}},
    decor: Object.assign({}, mainDecor, {
        arrows: [{x: 1.56, from: -20.1, to: -55.7}],
        letter: {text: 'D', x: 0.47, y: -50.3}
    })
});

var insetDecor = {tickLen: 5, tickWidth: 1.8, frameWidth: 2, fill: true};

drawChart('insetA', {
    series: [{xs: timeA, ys: blackA, color: '#111111'}, {xs: timeA, ys: redA, color: '#e8231f'}],
    lineWidth: 1.8,
    padding: {top: 12.7, right: 10, left: 0, bottom: 0},
    x: {min: 0, max: 140, ticks: [0, 15, 30, 45, 60, 75, 90, 105, 120, 135], labels: [0, 30, 60, 90, 120],
        height: 55, pad: 5.8, fontSize: 16, title: 'time (ns)', titleSize: 17, titlePad: {top: 0, bottom: 6.5}},
    y: {min: 0, max: 50, ticks: [0, 10, 20, 30, 40, 50], labels: [0, 20, 40],
        width: 61.7, pad: 8.7, fontSize: 16, title: yTitle, titleSize: 15, titlePad: {top: 14, bottom: 0}},
    decor: insetDecor
});

drawChart('insetC', {
    series: [{xs: timeC, ys: blackC, color: '#111111'}, {xs: timeC, ys: redC, color: '#e8231f'}],
    lineWidth: 1.3,
    padding: {top: 12.7, right: 10.7, left: 0, bottom: 0},
    x: {min: 0, max: 130, ticks: [0, 15, 30, 45, 60, 75, 90, 105, 120], labels: [0, 30, 60, 90, 120],
        height: 55, pad: 6.4, fontSize: 16, title: 'time (ns)', titleSize: 17, titlePad: {top: 0, bottom: 4.8}},
    y: {min: 20, max: 60, ticks: [20, 30, 40, 50, 60], labels: [20, 40, 60],
        width: 58.3, pad: 6.6, fontSize: 16, title: yTitle, titleSize: 15, titlePad: {top: 9.3, bottom: 0}},
    decor: insetDecor
});
</script>
</body>
</html>
